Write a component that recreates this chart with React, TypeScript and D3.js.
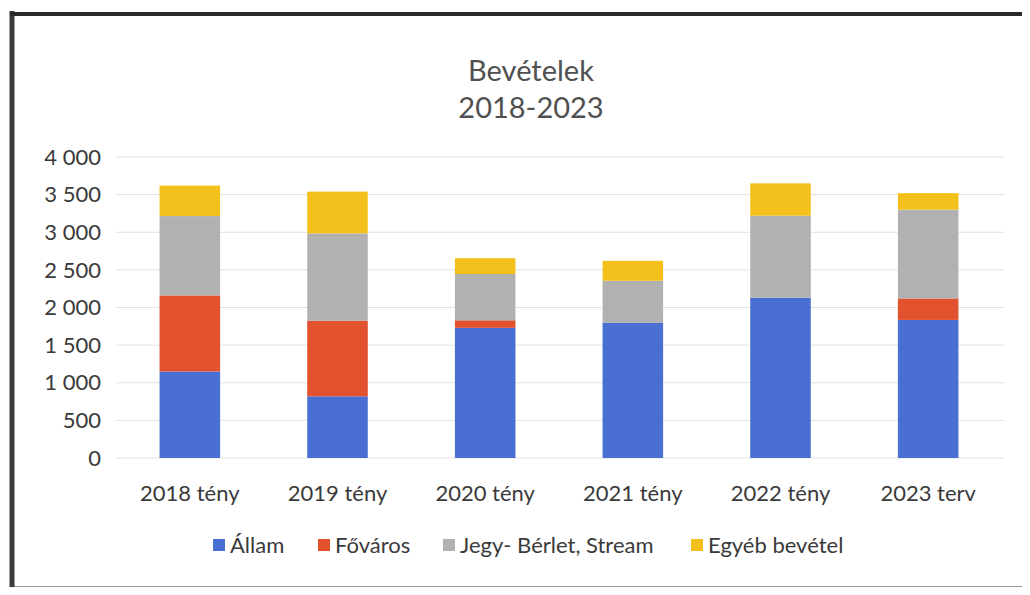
import { useRef, useEffect } from "react";
import * as d3 from "d3";

const categories = ["2018 tény", "2019 tény", "2020 tény", "2021 tény", "2022 tény", "2023 terv"];
const seriesNames = ["Állam", "Főváros", "Jegy- Bérlet, Stream", "Egyéb bevétel"];
const allam = [1150, 820, 1730, 1795, 2130, 1835];
const fovaros = [1010, 1005, 100, 0, 0, 285];
const jegy = [1055, 1160, 615, 560, 1090, 1180];
const egyeb = [405, 555, 210, 265, 430, 220];
const yTicks = [0, 500, 1000, 1500, 2000, 2500, 3000, 3500, 4000];
const colors = ["#4a6fd3", "#e2522f", "#b1b1b1", "#f4c11c"];

export default function App() {
  const ref = useRef<HTMLDivElement>(null);

  useEffect(() => {
    if (!ref.current) return;
    d3.select(ref.current).selectAll("*").remove();

    const width = 1030;
    const height = 595;
    const font = "Lato, 'Open Sans', sans-serif";
    const textColor = "#3a3a3a";

    const svg = d3
      .select(ref.current)
      .append("svg")
      .attr("width", width)
      .attr("height", height)
      .style("display", "block")
      .style("background", "#fff");

    // scanned frame
    svg.append("line").attr("x1", 12).attr("x2", 12).attr("y1", 11).attr("y2", 590)
      .attr("stroke", "#3c3c3c").attr("stroke-width", 5);
    svg.append("line").attr("x1", 10).attr("x2", 1030).attr("y1", 14).attr("y2", 14)
      .attr("stroke", "#2a2a2a").attr("stroke-width", 4);
    svg.append("line").attr("x1", 10).attr("x2", 1030).attr("y1", 588).attr("y2", 588)
      .attr("stroke", "#333").attr("stroke-width", 3);

    const rows = categories.map((c, i) => ({
      cat: c,
      allam: allam[i],
      fovaros: fovaros[i],
      jegy: jegy[i],
      egyeb: egyeb[i],
    }));
    const keys = ["allam", "fovaros", "jegy", "egyeb"];
    const stacked = d3.stack<any>().keys(keys)(rows);

    const x = d3.scaleBand().domain(categories).range([116, 1002]).paddingInner(0.59).paddingOuter(0.295);
    const y = d3.scaleLinear().domain([0, 4000]).range([458, 157]);

    // gridlines
    svg.append("g")
      .selectAll("line")
      .data(yTicks)
      .enter()
      .append("line")
      .attr("x1", 116)
      .attr("x2", 1005)
      .attr("y1", (d) => y(d))
      .attr("y2", (d) => y(d))
      .attr("stroke", "#e2e2e2")
      .attr("stroke-width", 1);

    // y tick labels
    svg.append("g")
      .selectAll("text")
      .data(yTicks)
      .enter()
      .append("text")
      .attr("x", 101)
      .attr("y", (d) => y(d))
      .attr("dy", "0.35em")
      .attr("text-anchor", "end")
      .attr("font-family", font)
      .attr("font-size", 22)
      .attr("fill", textColor)
      .text((d) => d3.format(",")(d).replace(/,/g, " "));

    // bars
    svg.append("g")
      .selectAll("g")
      .data(stacked)
      .enter()
      .append("g")
      .attr("fill", (_d, i) => colors[i])
      .selectAll("rect")
      .data((d) => d)
      .enter()
      .append("rect")
      .attr("x", (d: any) => x(d.data.cat)!)
      .attr("width", x.bandwidth())
      .attr("y", (d) => y(d[1]))
      .attr("height", (d) => y(d[0]) - y(d[1]));

    // x labels
    svg.append("g")
      .selectAll("text")
      .data(categories)
      .enter()
      .append("text")
      .attr("x", (d) => x(d)! + x.bandwidth() / 2)
      .attr("y", 501)
      .attr("text-anchor", "middle")
      .attr("font-family", font)
      .attr("font-size", 22)
      .attr("fill", textColor)
      .text((d) => d);

    // title
    const title = svg.append("text")
      .attr("x", 531)
      .attr("text-anchor", "middle")
      .attr("font-family", font)
      .attr("font-size", 29)
      .attr("fill", "#505050");
    title.append("tspan").attr("x", 531).attr("y", 81).text("Bevételek");
    title.append("tspan").attr("x", 531).attr("y", 118).text("2018-2023");

    // legend
    const legendX = [213, 318, 443, 691];
    const legend = svg.append("g")
      .selectAll("g")
      .data(seriesNames)
      .enter()
      .append("g")
      .attr("transform", (_d, i) => `translate(${legendX[i]}, 545)`);
    legend.append("rect")
      .attr("x", 0)
      .attr("y", -6)
      .attr("width", 12)
      .attr("height", 12)
      .attr("fill", (_d, i) => colors[i]);
    legend.append("text")
      .attr("x", 17)
      .attr("y", 0)
      .attr("dy", "0.35em")
      .attr("font-family", font)
      .attr("font-size", 22)
      .attr("fill", textColor)
      .text((d) => d);
  }, []);

  return <div ref={ref} style={{ margin: -8 }}></div>;
}
